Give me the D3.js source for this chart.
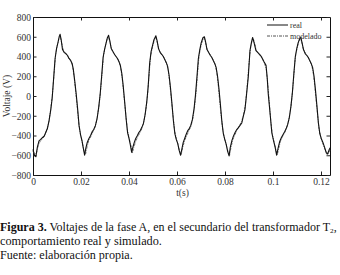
<!DOCTYPE html>
<html>
<head>
<meta charset="utf-8">
<title></title>
<style>
  body { margin: 0; background: #fff; }
  svg { display: block; }
  svg text { font-family: "Liberation Serif", "DejaVu Serif", "Noto Serif", serif; }
</style>
</head>
<body>
<div id="chart"></div>
<script src="https://d3js.org/d3.v7.min.js"></script>
<script>
// measured voltage, phase A (t in s, V)
const real = [
  [0.0000,-540],[0.0006,-600],[0.0012,-615],[0.0018,-520],[0.0025,-455],[0.0032,-440],[0.0040,-420],[0.0047,-405],
  [0.0053,-370],[0.0060,-330],[0.0067,-250],[0.0074,-140],[0.0080,-20],[0.0086,180],[0.0092,380],[0.0098,480],
  [0.0104,540],[0.0109,600],[0.0113,625],[0.0118,560],[0.0123,470],[0.0130,440],[0.0137,430],[0.0144,410],
  [0.0150,380],[0.0157,360],[0.0163,330],[0.0168,270],[0.0174,150],[0.0180,20],[0.0186,-130],[0.0192,-300],
  [0.0198,-390],[0.0204,-450],[0.0209,-520],
  [0.0215,-600],[0.0220,-530],[0.0226,-470],[0.0233,-430],[0.0240,-400],[0.0247,-360],[0.0253,-340],[0.0260,-300],
  [0.0267,-230],[0.0274,-110],[0.0280,20],[0.0286,200],[0.0292,390],[0.0298,470],[0.0304,530],[0.0310,590],
  [0.0315,615],[0.0320,560],[0.0326,480],[0.0333,450],[0.0340,420],[0.0346,400],[0.0352,380],[0.0358,350],
  [0.0364,310],[0.0370,230],[0.0376,100],[0.0382,-60],[0.0388,-230],[0.0394,-370],[0.0400,-430],[0.0406,-500],
  [0.0411,-570],[0.0416,-520],[0.0422,-470],[0.0428,-430],[0.0435,-400],[0.0441,-370],[0.0447,-350],[0.0453,-320],
  [0.0460,-280],[0.0467,-190],[0.0474,-60],[0.0480,100],[0.0486,330],[0.0492,450],[0.0498,510],[0.0504,570],
  [0.0512,610],[0.0517,560],[0.0523,480],[0.0530,440],[0.0537,420],[0.0543,400],[0.0549,370],[0.0555,340],
  [0.0561,300],[0.0567,210],[0.0573,80],[0.0579,-80],[0.0585,-250],[0.0591,-380],[0.0597,-440],[0.0603,-480],
  [0.0609,-550],
  [0.0615,-600],[0.0620,-540],[0.0626,-470],[0.0632,-430],[0.0638,-390],[0.0645,-350],[0.0651,-330],[0.0657,-300],
  [0.0664,-240],[0.0671,-130],[0.0677,10],[0.0683,190],[0.0689,380],[0.0695,470],[0.0701,540],[0.0708,590],
  [0.0714,600],[0.0719,550],[0.0725,470],[0.0732,440],[0.0739,410],[0.0745,390],[0.0751,360],[0.0757,330],
  [0.0763,290],[0.0769,200],[0.0775,70],[0.0781,-90],[0.0787,-260],[0.0793,-380],[0.0799,-440],[0.0805,-490],
  [0.0811,-560],
  [0.0817,-607],[0.0822,-520],[0.0829,-450],[0.0835,-407],[0.0842,-370],[0.0849,-340],[0.0855,-323],[0.0862,-300],
  [0.0870,-273],[0.0876,-210],[0.0883,-140],[0.0890,20],[0.0897,193],[0.0904,460],[0.0910,540],[0.0915,593],
  [0.0921,540],[0.0929,460],[0.0937,440],[0.0945,420],[0.0953,393],[0.0962,350],[0.0971,310],[0.0976,180],
  [0.0980,27],[0.0988,-180],[0.0995,-370],[0.1002,-450],[0.1009,-520],
  [0.1015,-600],[0.1021,-530],[0.1028,-460],[0.1035,-420],[0.1042,-390],[0.1049,-360],[0.1055,-330],[0.1061,-290],
  [0.1068,-220],[0.1075,-100],[0.1081,40],[0.1087,230],[0.1093,400],[0.1099,480],[0.1105,540],[0.1111,580],
  [0.1116,595],[0.1121,540],[0.1127,470],[0.1134,430],[0.1141,410],[0.1147,390],[0.1153,360],[0.1159,330],
  [0.1165,290],[0.1171,200],[0.1177,60],[0.1183,-100],[0.1189,-270],[0.1195,-380],[0.1201,-430],[0.1208,-470],
  [0.1215,-520],[0.1222,-575],[0.1228,-585],[0.1233,-550],[0.1238,-525]
]

// simulated voltage (modelado)
const modelado = [
  [0.0000,-560],[0.0008,-590],[0.0015,-575],[0.0022,-500],[0.0030,-460],[0.0040,-430],[0.0050,-390],[0.0058,-340],
  [0.0066,-260],[0.0074,-130],[0.0081,20],[0.0088,230],[0.0094,410],[0.0101,510],[0.0108,580],[0.0114,600],
  [0.0120,530],[0.0127,460],[0.0136,430],[0.0145,400],[0.0153,370],[0.0160,340],[0.0166,290],[0.0172,180],
  [0.0178,40],[0.0185,-130],[0.0192,-310],[0.0199,-410],[0.0206,-480],[0.0213,-560],
  [0.0219,-590],[0.0225,-520],[0.0232,-450],[0.0241,-410],[0.0250,-360],[0.0258,-320],[0.0266,-240],[0.0274,-120],
  [0.0281,40],[0.0288,240],[0.0294,410],[0.0301,500],[0.0308,570],[0.0315,595],[0.0321,540],[0.0328,470],
  [0.0337,430],[0.0346,400],[0.0354,370],[0.0361,330],[0.0367,260],[0.0373,150],[0.0379,0],[0.0386,-170],
  [0.0393,-340],[0.0400,-420],[0.0407,-490],
  [0.0414,-580],[0.0420,-520],[0.0428,-460],[0.0437,-410],[0.0446,-370],[0.0454,-330],[0.0462,-260],[0.0470,-150],
  [0.0477,0],[0.0484,220],[0.0490,400],[0.0497,490],[0.0505,560],[0.0512,595],[0.0518,540],[0.0525,470],
  [0.0534,430],[0.0543,400],[0.0551,360],[0.0558,320],[0.0564,250],[0.0570,130],[0.0576,-20],[0.0583,-190],
  [0.0590,-350],[0.0597,-430],[0.0604,-490],[0.0611,-560],
  [0.0618,-590],[0.0624,-520],[0.0632,-450],[0.0641,-400],[0.0650,-350],[0.0658,-310],[0.0666,-230],[0.0673,-110],
  [0.0680,50],[0.0686,240],[0.0692,410],[0.0699,500],[0.0706,560],[0.0713,590],[0.0719,540],[0.0726,470],
  [0.0735,430],[0.0744,400],[0.0752,360],[0.0759,320],[0.0765,250],[0.0771,130],[0.0777,-30],[0.0784,-200],
  [0.0791,-350],[0.0798,-430],[0.0805,-490],[0.0812,-560],
  [0.0819,-600],[0.0825,-520],[0.0833,-440],[0.0842,-390],[0.0851,-340],[0.0860,-300],[0.0869,-260],[0.0877,-190],
  [0.0885,-90],[0.0892,90],[0.0899,300],[0.0906,480],[0.0912,550],[0.0918,580],[0.0924,530],[0.0931,460],
  [0.0940,430],[0.0949,400],[0.0957,370],[0.0965,330],[0.0972,270],[0.0978,130],[0.0984,-40],[0.0991,-260],
  [0.0998,-400],[0.1005,-470],[0.1012,-540],
  [0.1018,-595],[0.1024,-530],[0.1031,-460],[0.1040,-410],[0.1049,-370],[0.1057,-320],[0.1065,-250],[0.1073,-140],
  [0.1080,10],[0.1087,210],[0.1093,390],[0.1100,480],[0.1107,550],[0.1114,580],[0.1120,540],[0.1127,470],
  [0.1136,430],[0.1145,400],[0.1153,360],[0.1160,320],[0.1166,260],[0.1172,150],[0.1178,0],[0.1185,-170],
  [0.1192,-340],[0.1199,-420],[0.1206,-470],[0.1213,-520],[0.1220,-560],[0.1227,-600],[0.1233,-570],[0.1238,-540]
]

const xTicks = [0, 0.02, 0.04, 0.06, 0.08, 0.1, 0.12]
const yTicks = [-800, -600, -400, -200, 0, 200, 400, 600, 800]
const legendLabels = ['real', 'modelado']

const serif = '"Liberation Serif", "DejaVu Serif", "Noto Serif", serif'
const W = 340, H = 275
const margin = {top: 17, right: 10, bottom: 100, left: 33}
const width = W - margin.left - margin.right,
      height = 175 - margin.top

const svg = d3.select('#chart').append('svg')
    .attr('width', W)
    .attr('height', H)
    .attr('font-family', serif)

const g = svg.append('g')
    .attr('transform', `translate(${margin.left},${margin.top})`)

const x = d3.scaleLinear().domain([0, 0.12375]).range([0, width])
const y = d3.scaleLinear().domain([-800, 800]).range([height, 0])

// axes, MATLAB style ticks pointing inward
const tk = 3.5
g.append('g')
    .attr('transform', `translate(0,${height})`)
    .call(d3.axisBottom(x).tickValues(xTicks).tickSize(-tk).tickSizeOuter(0).tickPadding(3)
        .tickFormat(d => d3.format('~g')(d)))
g.append('g')
    .call(d3.axisTop(x).tickValues(xTicks).tickSize(-tk).tickSizeOuter(0).tickFormat(''))
const yAxis = g.append('g')
    .call(d3.axisLeft(y).tickValues(yTicks).tickSize(-tk).tickSizeOuter(0).tickPadding(2))
g.append('g')
    .attr('transform', `translate(${width},0)`)
    .call(d3.axisRight(y).tickValues(yTicks).tickSize(-tk).tickSizeOuter(0).tickFormat(''))

g.selectAll('.domain').attr('stroke', '#111').attr('stroke-width', 1)
g.selectAll('.tick line').attr('stroke', '#222')
g.selectAll('.tick text')
    .attr('fill', '#333')
    .attr('font-family', serif)
    .style('font-family', serif)
    .style('font-size', '9.5px')
yAxis.selectAll('.tick text').attr('dy', '0.35em')

const line = d3.line().x(d => x(d[0])).y(d => y(d[1]))

g.append('path')
    .datum(modelado)
    .attr('fill', 'none')
    .attr('stroke', '#777')
    .attr('stroke-width', 1)
    .attr('stroke-dasharray', '2.5,1,1,1')
    .attr('d', line)

g.append('path')
    .datum(real)
    .attr('fill', 'none')
    .attr('stroke', '#111')
    .attr('stroke-width', 1.1)
    .attr('stroke-linejoin', 'round')
    .attr('d', line)

// legend
const leg = g.append('g').attr('transform', `translate(${width - 63},8)`)
legendLabels.forEach((lab, i) => {
    const row = leg.append('g').attr('transform', `translate(0,${i * 11})`)
    row.append('line')
        .attr('x1', 0).attr('x2', 21)
        .attr('stroke', i === 0 ? '#111' : '#555')
        .attr('stroke-width', 1)
        .attr('stroke-dasharray', i === 0 ? null : '3,1,1,1')
    row.append('text')
        .attr('x', 23).attr('dy', '0.32em')
        .attr('fill', '#333')
        .style('font-size', '8px')
        .text(lab)
})

// axis labels
svg.append('text')
    .attr('x', margin.left + width / 2 + 1).attr('y', 196)
    .attr('text-anchor', 'middle')
    .attr('fill', '#333')
    .style('font-size', '9.5px')
    .text('t(s)')

svg.append('text')
    .attr('transform', `translate(10,96) rotate(-90)`)
    .attr('text-anchor', 'middle')
    .attr('fill', '#333')
    .style('font-size', '9.5px')
    .text('Voltaje (V)')

// caption, each line squeezed to the width it has in the figure
const cap = svg.append('g').style('font-size', '11.5px').attr('fill', '#111')
function fit(t, w) {
    const cw = t.node().getComputedTextLength()
    t.attr('transform', `scale(${w / cw},1)`)
}
const c1 = cap.append('text').attr('x', 0).attr('y', 231)
c1.append('tspan').style('font-weight', 'bold').text('Figura 3.')
c1.append('tspan').text(' Voltajes de la fase A, en el secundario del transformador T')
c1.append('tspan').attr('dy', 2).style('font-size', '7px').text('2')
c1.append('tspan').attr('dy', -2).text(',')
fit(c1, 337)

fit(cap.append('text').attr('x', 0).attr('y', 245).text('comportamiento real y simulado.'), 162)
fit(cap.append('text').attr('x', 0).attr('y', 259).text('Fuente: elaboración propia.'), 133)
</script>
</body>
</html>
